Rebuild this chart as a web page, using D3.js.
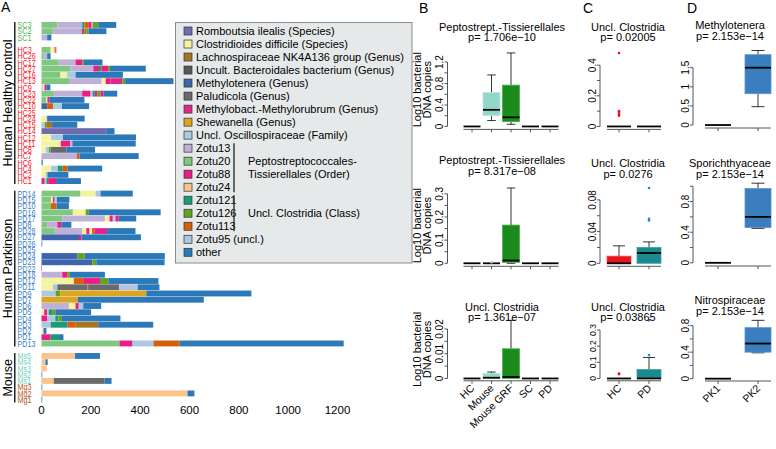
<!DOCTYPE html>
<html><head><meta charset="utf-8">
<script src="https://cdn.jsdelivr.net/npm/d3@7"></script>
<style>body{margin:0;background:#fff}svg{font-family:"Liberation Sans",Arial,sans-serif}</style>
</head><body><svg id="c" width="776" height="449"></svg>
<script>
// ---------- Panel A data ----------
const taxaKeys = ["rom","cdi","lac","bac","met","pal","mbm","she","osc","z13","z20","z88","z24","z121","z126","z113","z95","oth"];
const taxaNames = ["Romboutsia ilealis (Species)","Clostridioides difficile (Species)","Lachnospiraceae NK4A136 group (Genus)","Uncult. Bacteroidales bacterium (Genus)","Methylotenera (Genus)","Paludicola (Genus)","Methylobact.-Methylorubrum (Genus)","Shewanella (Genus)","Uncl. Oscillospiraceae (Family)","Zotu13","Zotu20","Zotu88","Zotu24","Zotu121","Zotu126","Zotu113","Zotu95 (uncl.)","other"];
const taxaColors = ["#6F6BAE","#F4F49C","#A47524","#585858","#3C65AE","#6A6A6A","#E0288C","#DBA521","#A8CCE2","#BEB0D6","#80C880","#EC1C84","#FCC38C","#1B9A78","#62A325","#D6600A","#AEC6E0","#2B79B8"];

const scLabels = ["SC3","SC2","SC1"];
const scSegs = [
 [["z20",64],["z13",101],["z121",9],["z113",18],["z88",11],["z13",5],["z126",22],["oth",73]],
 [["z20",46],["z13",117],["z88",5],["z121",7],["z113",8],["z126",7],["oth",73]],
 [["z13",23],["oth",17]]
];
const hcLabels = ["HC3","HC26","HC17","HC27","HC16","HC13","HC9","HC23","HC22","HC10","HC25","HC24","HC15","HC14","HC12","HC11","HC8","HC7","HC6","HC4","HC2","HC1"];
const hcSegs = [
 [["z20",37],["cdi",16],["z113",4],["z88",3]],
 [["z20",9],["z13",14],["oth",14]],
 [["z20",70],["z13",68],["z88",27],["z126",7],["oth",75]],
 [["z20",118],["z13",92],["z88",23],["z121",11],["z88",26],["z126",8],["oth",145]],
 [["z20",77],["cdi",27],["osc",34],["oth",192]],
 [["z20",115],["z13",129],["cdi",16],["z88",20],["mbm",48],["z126",11],["oth",196]],
 [["z13",5],["cdi",7],["z88",7],["oth",17]],
 [["z20",50],["z13",115],["z88",34],["z95",8],["z121",9],["z88",10],["z126",13],["z88",12],["oth",56]],
 [["z20",20],["cdi",4],["z88",9],["oth",141]],
 [["met",23],["z113",24],["osc",36],["oth",110]],
 [],
 [["cdi",20],["z95",3],["oth",152]],
 [["osc",13],["z126",6],["lac",24],["oth",102]],
 [["rom",265],["oth",31]],
 [["cdi",39],["osc",48],["oth",296]],
 [["cdi",78],["z88",38],["z13",9],["oth",257]],
 [["cdi",17],["z95",13],["z126",7],["pal",65],["oth",115]],
 [["z13",143],["z113",11],["oth",240]],
 [["oth",5]],
 [["cdi",39],["z95",27],["z121",20],["z113",20],["oth",140]],
 [["cdi",17],["z95",7],["oth",85]],
 [["z88",13],["z95",7],["z121",7],["z88",32],["oth",101]]
];
const pdLabels = ["PD14","PD15","PD10","PD16","PD17","PD8","PD28","PD27","PD26","PD25","PD24","PD23","PD22","PD18","PD12","PD11","PD9","PD7","PD6","PD5","PD4","PD3","PD2","PD1","PD13"];
const pdSegs = [
 [["z20",158],["cdi",61],["z95",20],["oth",131]],
 [["z20",39],["cdi",7],["z88",7],["z95",9],["oth",51]],
 [["z20",37],["z113",24],["oth",50]],
 [["z20",127],["cdi",52],["z126",13],["oth",291]],
 [["z20",84],["z13",173],["cdi",19],["z88",13],["z95",11],["z88",13],["oth",71]],
 [["z20",23],["z13",41],["z88",16],["oth",41]],
 [["z20",54],["z13",111],["cdi",17],["z88",13],["cdi",10],["z113",9],["mbm",52],["oth",115]],
 [["met",152],["z88",10],["oth",241]],
 [["oth",3]],
 [],
 [["met",145],["z126",30],["oth",325]],
 [["met",206],["z126",16],["oth",277]],
 [["z88",2]],
 [["z13",84],["z88",20],["z126",11],["oth",142]],
 [["cdi",131],["z113",41],["z88",65],["z126",34],["oth",203]],
 [["cdi",46],["z95",18],["pal",122],["z113",3],["pal",126],["z95",75],["oth",88]],
 [["z95",57],["z126",20],["she",348],["oth",426]],
 [["she",148],["oth",510]],
 [["z13",111],["cdi",27],["z88",13],["z95",18],["oth",73]],
 [["cdi",11],["z88",12],["z95",6],["z121",14],["z126",13],["oth",145]],
 [["z88",24],["z95",32],["z121",13],["z126",14],["oth",237]],
 [["z95",37],["z121",68],["z113",34],["lac",91],["oth",223]],
 [["cdi",8],["oth",12]],
 [["z88",37],["z121",34],["oth",18]],
 [["z20",316],["z88",53],["z95",85],["z113",106],["oth",665]]
];
const msLabels = ["Ms5","Ms4","Ms3","Ms2","Ms1","Mg3","Mg2","Mg1"];
const msSegs = [
 [["z24",136],["oth",101]],
 [["z24",16],["oth",9]],
 [["z24",21]],
 [["oth",3]],
 [["z24",50],["pal",206],["oth",28]],
 [["oth",3]],
 [["z24",592],["oth",28]],
 [["oth",3]]
];
const xTicksA = [0,200,400,600,800,1000,1200];
const groupTitles = ["Human Healthy control","Human Parkinson","Mouse"];

// ---------- Panels B, C, D data ([low whisker, q1, median, q3, high whisker]) ----------
const bCats = ["HC","Mouse","Mouse GRF","SC","PD"];
const bTitles = ["Peptostrept.-Tissierellales","Peptostrept.-Tissierellales","Uncl. Clostridia"];
const bPvals = ["p= 1.706e\u221210","p= 8.317e\u221208","p= 1.361e\u221207"];
const bStats1 = [[0,0,0,0,0],[0.11,0.2,0.31,0.63,0.96],[0.04,0.09,0.17,0.77,1.37],[0,0,0,0,0],[0,0,0,0,0]];
const bStats2 = [[0,0,0,0,0],[0,0,0,0,0],[0,0.004,0.012,0.165,0.325],[0,0,0,0,0],[0,0,0,0,0]];
const bStats3 = [[0,0,0,0,0],[0,0,0.0003,0.002,0.0026],[0,0,0.0006,0.012,0.0235],[0,0,0,0,0],[0,0,0,0,0]];
const bOut2 = [[],[0.004],[],[],[]];
const bTicks = [[0,0.4,0.8,1.2],[0,0.1,0.2,0.3],[0,0.01,0.02]];
const bMinor = [[0.2,0.6,1.0],[0.05,0.15,0.25],[0.005,0.015]];

const cCats = ["HC","PD"];
const cTitles = ["Uncl. Clostridia","Uncl. Clostridia","Uncl. Clostridia"];
const cPvals = ["p= 0.02005","p= 0.0276","p= 0.03865"];
const cStats1 = [[0,0,0,0,0],[0,0,0,0,0]];
const cStats2 = [[0,0,0,0.009,0.022],[0,0,0.013,0.02,0.027]];
const cStats3 = [[0,0,0,0,0],[0,0,0,0.055,0.13]];
const cOut1 = [[0.48,0.1,0.09,0.08,0.07],[]];
const cOut2 = [[],[0.095,0.056,0.054]];
const cOut3 = [[0.03,0.027],[0.36,0.145]];
const cTicks = [[0,0.2,0.4],[0,0.04,0.08],[0,0.1,0.2,0.3]];
const cMinor = [[0.1,0.3],[0.02,0.06],[]];

const dCats = ["PK1","PK2"];
const dTitles = ["Methylotenera","Sporichthyaceae","Nitrospiraceae"];
const dPvals = ["p= 2.153e\u221214","p= 2.153e\u221214","p= 2.153e\u221214"];
const dStats1 = [[0,0,0,0,0],[0.48,0.82,1.5,1.84,1.95]];
const dStats2 = [[0,0,0,0,0],[0.45,0.46,0.6,0.97,1.04]];
const dStats3 = [[0,0,0,0,0],[0.39,0.4,0.53,0.77,0.88]];
const dTicks = [[0,0.5,1,1.5],[0,0.4,0.8],[0,0.4,0.8]];
const dMinor = [[],[0.2,0.6,1.0],[0.2,0.6]];

// ---------- drawing ----------
const svg = d3.select("#c");
const color = d3.scaleOrdinal().domain(taxaKeys).range(taxaColors);

// Panel A
const rows = [];
const addGroup = (labels, segs, col) => labels.forEach((l,i)=>rows.push({label:l, segs:segs[i], col:typeof col==="function"?col(l):col}));
addGroup(scLabels, scSegs, "#4DB84D");
rows.push(null);
addGroup(hcLabels, hcSegs, "#F0202A");
rows.push(null);
addGroup(pdLabels, pdSegs, "#3C7DC4");
rows.push(null);
addGroup(msLabels, msSegs, l => l.startsWith("Ms") ? "#74D3BE" : "#B4541A");

const yA = d3.scaleBand().domain(d3.range(rows.length)).range([22, 402.6]).paddingInner(0.06).paddingOuter(0);
const xA = d3.scaleLinear().domain([0,1200]).range([41.5,337.5]);

const gA = svg.append("g");
rows.forEach((r,i)=>{
  if(!r) return;
  let acc = 0;
  r.segs.forEach(([k,v])=>{
    gA.append("rect").attr("x", xA(acc)).attr("y", yA(i)).attr("width", xA(acc+v)-xA(acc)).attr("height", yA.bandwidth())
      .attr("fill", color(k));
    acc += v;
  });
  gA.append("text").attr("transform", `translate(17.5,${yA(i)+yA.bandwidth()/2+3.2}) scale(0.8,1)`)
    .attr("font-size", 9).attr("fill", r.col).text(r.label);
});
gA.selectAll(".xt").data(xTicksA).join("text").attr("x", d=>xA(d)).attr("y", 413.5).attr("text-anchor","middle")
  .attr("font-size", 11.5).text(d=>d);

// group brackets
const idxOf = lab => rows.findIndex(r=>r && r.label===lab);
const brackets = [["SC3","HC1",groupTitles[0]],["PD14","PD13",groupTitles[1]],["Ms5","Mg1",groupTitles[2]]];
brackets.forEach(([a,b,t])=>{
  const y1 = yA(idxOf(a)), y2 = yA(idxOf(b))+yA.bandwidth();
  gA.append("line").attr("x1",14.8).attr("x2",14.8).attr("y1",y1).attr("y2",y2).attr("stroke","#000").attr("stroke-width",1.3);
  gA.append("text").attr("transform",`translate(11.5,${(y1+y2)/2}) rotate(-90)`).attr("text-anchor","middle")
    .attr("font-size",12.5).text(t);
});
svg.append("text").attr("x",1).attr("y",12).attr("font-size",14).text("A");

// Legend
const lg = svg.append("g");
lg.append("rect").attr("x",175.5).attr("y",22.5).attr("width",236.5).attr("height",240.5).attr("fill","#E6E9E9").attr("stroke","#8C8C8C");
const lgY = d3.scalePoint().domain(taxaKeys).range([31,252.3]);
taxaKeys.forEach((k,i)=>{
  lg.append("rect").attr("x",184).attr("y",lgY(k)-4).attr("width",8).attr("height",8).attr("fill",color(k)).attr("stroke","#333").attr("stroke-width",0.7);
  lg.append("text").attr("x",196).attr("y",lgY(k)+4).attr("font-size",11).text(taxaNames[i]);
});
const br1 = [lgY("z13")-5, lgY("z24")+5], br2 = [lgY("z121")-5, lgY("z113")+5];
lg.append("line").attr("x1",234).attr("x2",234).attr("y1",br1[0]).attr("y2",br1[1]).attr("stroke","#333").attr("stroke-width",1.4);
lg.append("line").attr("x1",234).attr("x2",234).attr("y1",br2[0]).attr("y2",br2[1]).attr("stroke","#333").attr("stroke-width",1.4);
lg.append("text").attr("x",248).attr("y",lgY("z20")+4).attr("font-size",11).text("Peptostreptococcales-");
lg.append("text").attr("x",248).attr("y",lgY("z88")+4).attr("font-size",11).text("Tissierellales (Order)");
lg.append("text").attr("x",248).attr("y",lgY("z126")+4).attr("font-size",11).text("Uncl. Clostridia (Class)");

// boxplot drawer
function boxPanel(o){
  const g = svg.append("g");
  const x = d3.scalePoint().domain(o.cats).range(o.xr);
  const vals = o.stats.flat().concat((o.out||[]).flat());
  const lo = d3.min(vals), hi = d3.max(vals), ext = (hi-lo)*0.04;
  const y = d3.scaleLinear().domain([lo-ext, hi+ext]).range([o.reg[1], o.reg[0]]);
  const axc = "#555";
  const w = o.bw;
  // y axis
  const allT = o.ticks.concat(o.minor||[]);
  g.append("line").attr("x1",o.ax).attr("x2",o.ax).attr("y1",y(d3.min(allT))).attr("y2",y(d3.max(allT))).attr("stroke",axc);
  allT.forEach(t=>g.append("line").attr("x1",o.ax-3).attr("x2",o.ax).attr("y1",y(t)).attr("y2",y(t)).attr("stroke",axc));
  o.ticks.forEach(t=>g.append("text").attr("transform",`translate(${o.ax-4.5},${y(t)}) rotate(-90)`).attr("text-anchor","middle")
    .attr("font-size",o.tfs||10).text(t));
  // x axis
  const xr = o.xr;
  g.append("line").attr("x1",xr[0]-w/2).attr("x2",xr[1]+w/2).attr("y1",o.reg[1]).attr("y2",o.reg[1]).attr("stroke",axc);
  o.cats.forEach(c=>g.append("line").attr("x1",x(c)).attr("x2",x(c)).attr("y1",o.reg[1]).attr("y2",o.reg[1]+3).attr("stroke",axc));
  if(o.xlab) o.cats.forEach(c=>g.append("text").attr("transform",`translate(${x(c)+3},${o.reg[1]+8}) rotate(-45)`)
    .attr("text-anchor","end").attr("font-size",10.5).text(c));
  // boxes
  o.stats.forEach((s,i)=>{
    const cx = x(o.cats[i]), col = o.colors[i];
    const [wl,q1,md,q3,wh] = s;
    if(wh>wl){
      g.append("line").attr("x1",cx).attr("x2",cx).attr("y1",y(q3)).attr("y2",y(wh)).attr("stroke","#000").attr("stroke-width",0.8);
      g.append("line").attr("x1",cx).attr("x2",cx).attr("y1",y(q1)).attr("y2",y(wl)).attr("stroke","#000").attr("stroke-width",0.8);
      g.append("line").attr("x1",cx-w/4).attr("x2",cx+w/4).attr("y1",y(wh)).attr("y2",y(wh)).attr("stroke","#000").attr("stroke-width",0.8);
      if(wl<q1) g.append("line").attr("x1",cx-w/4).attr("x2",cx+w/4).attr("y1",y(wl)).attr("y2",y(wl)).attr("stroke","#000").attr("stroke-width",0.8);
    }
    if(q3>q1) g.append("rect").attr("x",cx-w/2).attr("y",y(q3)).attr("width",w).attr("height",y(q1)-y(q3))
      .attr("fill",col).attr("stroke",o.strokes[i]).attr("stroke-width",0.8);
    g.append("line").attr("x1",cx-w/2).attr("x2",cx+w/2).attr("y1",y(md)).attr("y2",y(md)).attr("stroke","#000").attr("stroke-width",1.8);
    ((o.out||[])[i]||[]).forEach(v=>g.append("circle").attr("cx",cx).attr("cy",y(v)).attr("r",1.3).attr("fill",o.outc[i]));
  });
  // titles
  g.append("text").attr("x",o.tx).attr("y",o.ty).attr("text-anchor","middle").attr("font-size",11).text(o.title);
  g.append("text").attr("x",o.tx).attr("y",o.ty+10.5).attr("text-anchor","middle").attr("font-size",11).text(o.p);
  if(o.ylab){
    const cy = (o.reg[0]+o.reg[1])/2;
    g.append("text").attr("transform",`translate(420.5,${cy}) rotate(-90)`).attr("text-anchor","middle").attr("font-size",11).text("Log10 bacterial");
    g.append("text").attr("transform",`translate(431,${cy}) rotate(-90)`).attr("text-anchor","middle").attr("font-size",11).text("DNA copies");
  }
}
const rowRegs = [[50,129.4],[185,266.3],[318,380.8]];
const bCol = ["#E41A1C","#92D7C8","#1B8C1B","#999","#3C7DC4"], bStr = ["#E41A1C","#B5E6DB","#4CAF4C","#999","#3C7DC4"];
const bTY = [30.5,164,310.5];
[bStats1,bStats2,bStats3].forEach((s,i)=>boxPanel({cats:bCats,xr:[472,550],ax:447.5,bw:17,reg:rowRegs[i],stats:s,out:i===1?bOut2:null,
  colors:bCol,strokes:bStr,outc:bCol,ticks:bTicks[i],minor:bMinor[i],title:bTitles[i],p:bPvals[i],tx:502,ty:bTY[i],ylab:true,xlab:i===2}));
const cCol = ["#E8161B","#1A8A8E"], cStr = ["#F04A4E","#3AA0A4"];
const cTY = [30.5,167,310.5];
[cStats1,cStats2,cStats3].forEach((s,i)=>boxPanel({cats:cCats,xr:[619,649],ax:600,bw:24,reg:rowRegs[i],stats:s,out:[cOut1,cOut2,cOut3][i],
  colors:cCol,strokes:cStr,outc:["#E8161B","#2F86C8"],ticks:cTicks[i],minor:cMinor[i],title:cTitles[i],p:cPvals[i],tx:628,ty:cTY[i],xlab:i===2,tfs:i===2?8.5:10}));
const dCol = ["#3A7EC0","#3A7EC0"], dStr = ["#5B95CC","#5B95CC"];
const dRegs = [[47.5,128],[180,266],[318,381]], dTY = [29,167,304];
[dStats1,dStats2,dStats3].forEach((s,i)=>boxPanel({cats:dCats,xr:[718,758],ax:693,bw:26,reg:dRegs[i],stats:s,
  colors:dCol,strokes:dStr,outc:dCol,ticks:dTicks[i],minor:dMinor[i],title:dTitles[i],p:dPvals[i],tx:730,ty:dTY[i],xlab:i===2}));
svg.append("text").attr("x",419).attr("y",13).attr("font-size",14).text("B");
svg.append("text").attr("x",583).attr("y",13).attr("font-size",14).text("C");
svg.append("text").attr("x",687).attr("y",13).attr("font-size",14).text("D");
</script></body></html>
